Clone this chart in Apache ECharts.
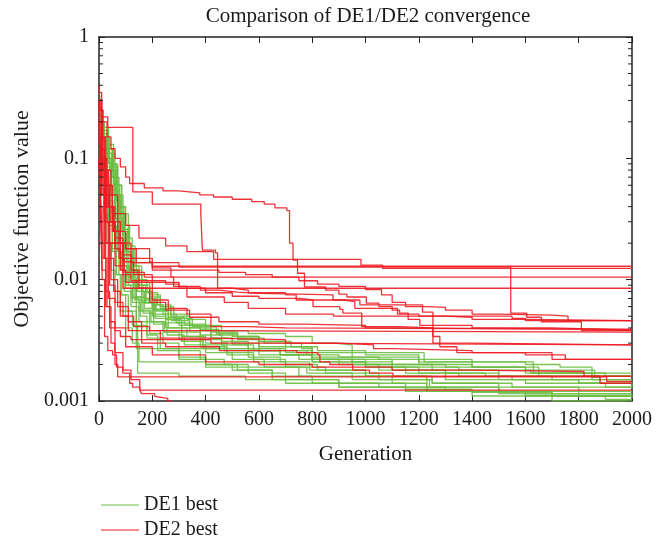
<!DOCTYPE html>
<html><head><meta charset="utf-8">
<script src="https://cdn.jsdelivr.net/npm/echarts@6/dist/echarts.min.js"></script>
<style>html,body{margin:0;padding:0;background:#fff}#c{width:670px;height:544px}</style>
</head><body><div id="c"></div>
<script>
// ---- data: [generation, best objective value] breakpoints (best-so-far, step) ----
const xTicks = [0,200,400,600,800,1000,1200,1400,1600,1800,2000];
const yMinorTicks = [0.002,0.003,0.004,0.005,0.006,0.007,0.008,0.009,0.02,0.03,0.04,0.05,0.06,0.07,0.08,0.09,0.2,0.3,0.4,0.5,0.6,0.7,0.8,0.9];

const de1_run01 = [[0,0.22],[10,0.17],[30,0.12],[50,0.08],[65,0.05],[80,0.035],[95,0.025],[110,0.018],[130,0.012],[160,0.009],[190,0.0075],[230,0.006],[280,0.0052],[330,0.0047],[400,0.0042],[460,0.0038],[560,0.0036],[700,0.0034],[800,0.003],[880,0.0029],[950,0.0025],[1220,0.0021],[1600,0.002],[1730,0.0019],[1850,0.00157],[1880,0.0014],[2000,0.0014]];
const de1_run02 = [[0,0.18],[12,0.14],[35,0.09],[55,0.06],[70,0.04],[85,0.025],[100,0.017],[120,0.011],[145,0.008],[175,0.0065],[210,0.0055],[260,0.0047],[300,0.0042],[380,0.0039],[450,0.0035],[520,0.0032],[600,0.0028],[700,0.0026],[780,0.0024],[900,0.0023],[1050,0.0022],[1200,0.002],[1400,0.0019],[1600,0.0017],[1900,0.0016],[2000,0.0016]];
const de1_run03 = [[0,0.15],[8,0.12],[25,0.1],[45,0.07],[60,0.045],[75,0.03],[90,0.02],[105,0.014],[125,0.01],[140,0.0027],[700,0.0025],[800,0.0021],[1000,0.0019],[1150,0.0017],[1350,0.0016],[1550,0.0015],[1800,0.0014],[2000,0.0013]];
const de1_run04 = [[0,0.2],[20,0.15],[40,0.11],[60,0.07],[75,0.05],[90,0.035],[110,0.022],[125,0.015],[140,0.011],[160,0.008],[200,0.0062],[240,0.0052],[290,0.0044],[340,0.004],[420,0.0033],[500,0.003],[600,0.0026],[800,0.0022],[950,0.002],[1100,0.0018],[1300,0.0017],[1500,0.0016],[1700,0.0015],[2000,0.0015]];
const de1_run05 = [[0,0.12],[10,0.09],[25,0.06],[40,0.04],[55,0.025],[70,0.017],[85,0.012],[100,0.009],[120,0.007],[150,0.0055],[190,0.0045],[240,0.0037],[300,0.0032],[380,0.0028],[480,0.0025],[580,0.0022],[700,0.002],[820,0.0018],[1000,0.0016],[1250,0.0014],[1500,0.0013],[1800,0.0012],[2000,0.0012]];
const de1_run06 = [[0,0.25],[15,0.18],[35,0.13],[55,0.09],[70,0.06],[85,0.04],[100,0.028],[115,0.019],[135,0.013],[160,0.0095],[190,0.0072],[230,0.0058],[280,0.0048],[350,0.0041],[440,0.0036],[520,0.0033],[620,0.003],[760,0.0027],[800,0.0023],[950,0.0021],[1100,0.0019],[1350,0.0018],[1620,0.0017],[2000,0.0017]];
const de1_run07 = [[0,0.16],[12,0.12],[28,0.085],[45,0.055],[60,0.035],[72,0.022],[88,0.015],[105,0.011],[130,0.0085],[160,0.0065],[200,0.005],[250,0.004],[310,0.0034],[390,0.0029],[470,0.0026],[560,0.0023],[680,0.0021],[790,0.0018],[1000,0.0016],[1230,0.0013],[1500,0.0012],[1700,0.0011],[2000,0.0011]];
const de1_run08 = [[0,0.14],[20,0.11],[40,0.08],[55,0.05],[68,0.03],[80,0.02],[95,0.013],[115,0.0095],[140,0.0072],[170,0.0058],[210,0.0048],[260,0.004],[330,0.0034],[400,0.003],[480,0.0027],[600,0.0024],[750,0.0022],[900,0.002],[1050,0.0018],[1300,0.0015],[1600,0.0014],[1900,0.0013],[2000,0.0013]];
const de1_run09 = [[0,0.2],[10,0.16],[30,0.12],[50,0.09],[65,0.06],[78,0.04],[92,0.026],[108,0.017],[125,0.012],[145,0.009],[175,0.007],[215,0.0056],[270,0.0046],[340,0.0038],[420,0.0033],[500,0.0029],[580,0.0026],[680,0.0024],[800,0.0021],[1000,0.0019],[1200,0.0017],[1450,0.0016],[1850,0.0015],[2000,0.0015]];
const de1_run10 = [[0,0.11],[15,0.08],[30,0.05],[45,0.03],[60,0.018],[75,0.011],[95,0.008],[120,0.006],[150,0.0045],[190,0.0036],[240,0.003],[300,0.0026],[380,0.0022],[470,0.002],[560,0.0017],[700,0.0015],[900,0.0013],[1230,0.0012],[1600,0.0011],[1900,0.00103],[2000,0.00103]];
const de1_run11 = [[0,0.17],[18,0.13],[35,0.1],[52,0.07],[66,0.045],[80,0.028],[95,0.018],[112,0.012],[135,0.009],[165,0.007],[200,0.0057],[250,0.0047],[310,0.004],[380,0.0035],[460,0.0031],[560,0.0027],[680,0.0024],[800,0.0022],[1100,0.002],[1300,0.0019],[1650,0.0016],[2000,0.0016]];
const de1_run12 = [[0,0.13],[10,0.1],[22,0.07],[38,0.045],[52,0.028],[65,0.018],[80,0.012],[100,0.0085],[125,0.0065],[155,0.005],[180,0.0035],[220,0.0026],[300,0.0022],[400,0.002],[520,0.0018],[650,0.0015],[900,0.0014],[1150,0.0012],[1400,0.0011],[1700,0.001],[2000,0.001]];
const de1_run13 = [[0,0.19],[12,0.15],[32,0.11],[48,0.08],[62,0.055],[76,0.036],[90,0.024],[104,0.016],[120,0.011],[145,0.0085],[175,0.0068],[210,0.0057],[260,0.0049],[320,0.0043],[400,0.0038],[500,0.0034],[600,0.0031],[700,0.0028],[800,0.0025],[950,0.0023],[1200,0.0021],[1400,0.0019],[1600,0.0018],[1860,0.0016],[2000,0.0016]];
const de1_run14 = [[0,0.1],[10,0.07],[22,0.045],[35,0.028],[50,0.017],[65,0.011],[85,0.0075],[110,0.0055],[140,0.0042],[180,0.0033],[230,0.0027],[300,0.0023],[400,0.002],[500,0.0018],[650,0.0016],[800,0.0014],[1050,0.0013],[1300,0.0012],[1600,0.00112],[2000,0.00108]];
const de1_run15 = [[0,0.21],[15,0.17],[35,0.12],[55,0.085],[70,0.06],[85,0.04],[98,0.026],[112,0.018],[128,0.013],[150,0.01],[180,0.0078],[220,0.0062],[270,0.005],[340,0.0042],[420,0.0037],[520,0.0034],[600,0.0031],[720,0.0028],[820,0.0026],[1000,0.0024],[1200,0.0022],[1400,0.0021],[1630,0.0017],[1850,0.0016],[2000,0.0016]];
const de1_run16 = [[0,0.15],[10,0.11],[25,0.08],[42,0.05],[58,0.032],[72,0.02],[88,0.013],[105,0.0095],[128,0.0072],[158,0.0056],[195,0.0045],[245,0.0037],[310,0.0031],[390,0.0027],[480,0.0024],[580,0.0021],[700,0.0019],[850,0.0017],[1050,0.0015],[1240,0.0013],[1500,0.0012],[1800,0.0011],[2000,0.0011]];
const de1_run17 = [[0,0.09],[8,0.06],[18,0.035],[30,0.02],[45,0.012],[60,0.008],[80,0.0055],[100,0.004],[125,0.003],[150,0.0021],[400,0.0019],[750,0.0016],[1100,0.0014],[1230,0.0012],[1500,0.00115],[2000,0.00115]];
const de1_run18 = [[0,0.11],[10,0.08],[20,0.05],[35,0.03],[50,0.018],[65,0.011],[80,0.0075],[100,0.0055],[125,0.0042],[145,0.0017],[300,0.0016],[550,0.0015],[700,0.0014],[900,0.0013],[1150,0.00125],[1400,0.00118],[1700,0.0011],[2000,0.00105]];
const de1_run19 = [[0,0.16],[12,0.12],[30,0.08],[48,0.05],[62,0.032],[76,0.02],[92,0.013],[110,0.009],[135,0.0068],[165,0.0053],[205,0.0043],[255,0.0035],[320,0.0029],[400,0.0025],[500,0.0022],[620,0.0019],[780,0.0017],[950,0.0015],[1250,0.0014],[1550,0.0013],[2000,0.0013]];
const de1_run20 = [[0,0.18],[14,0.14],[30,0.1],[46,0.07],[60,0.048],[74,0.032],[88,0.021],[102,0.014],[118,0.0105],[140,0.008],[170,0.0064],[205,0.0052],[250,0.0044],[310,0.0037],[380,0.0032],[460,0.0029],[560,0.0026],[680,0.0024],[800,0.0022],[1000,0.002],[1250,0.0018],[1500,0.0015],[1800,0.0014],[2000,0.0014]];

const de2_run01 = [[0,0.4],[5,0.25],[15,0.2],[30,0.15],[45,0.12],[60,0.1],[80,0.085],[100,0.07],[115,0.062],[170,0.057],[240,0.054],[300,0.052],[378,0.05],[430,0.048],[500,0.046],[573,0.044],[620,0.042],[660,0.039],[705,0.037],[715,0.02],[728,0.0145],[745,0.0113],[771,0.0087],[850,0.0082],[900,0.0076],[930,0.0072],[1003,0.0064],[1050,0.006],[1100,0.0056],[1128,0.0053],[1160,0.0047],[1204,0.0042],[1400,0.004],[1700,0.0039],[1900,0.0038],[2000,0.0038]];
const de2_run02 = [[0,0.3],[8,0.22],[33,0.18],[127,0.053],[200,0.042],[382,0.035],[388,0.0175],[437,0.0166],[445,0.0085],[500,0.0082],[560,0.0078],[700,0.0075],[740,0.0068],[920,0.0066],[960,0.0058],[1120,0.0052],[1200,0.005],[1550,0.0048],[1600,0.0046],[2000,0.0046]];
const de2_run03 = [[0,0.2],[10,0.1],[25,0.06],[50,0.035],[70,0.025],[100,0.018],[140,0.0138],[300,0.0127],[1545,0.0053],[1605,0.0049],[1660,0.0045],[1810,0.0038],[2000,0.0038]];
const de2_run04 = [[0,0.3],[10,0.15],[25,0.08],[45,0.05],[70,0.035],[100,0.028],[150,0.022],[250,0.019],[330,0.017],[430,0.0147],[983,0.0132],[1064,0.0124],[2000,0.0124]];
const de2_run05 = [[0,0.2],[15,0.08],[30,0.04],[60,0.022],[90,0.016],[120,0.0138],[200,0.0129],[2000,0.0129]];
const de2_run06 = [[0,0.15],[10,0.07],[25,0.04],[50,0.025],[75,0.015],[95,0.0115],[170,0.0105],[2000,0.0105]];
const de2_run07 = [[0,0.25],[10,0.12],[20,0.06],[40,0.03],[60,0.018],[80,0.012],[100,0.0095],[150,0.0085],[2000,0.0085]];
const de2_run08 = [[0,0.3],[10,0.1],[30,0.05],[50,0.03],[80,0.02],[120,0.015],[200,0.012],[450,0.0115],[550,0.011],[650,0.0105],[750,0.0098],[820,0.0092],[900,0.0088],[1000,0.0083],[1060,0.0075],[1100,0.0065],[1150,0.006],[1230,0.0059],[1300,0.0056],[1400,0.0052],[1500,0.0051],[1700,0.005],[1760,0.0046],[2000,0.0046]];
const de2_run09 = [[0,0.2],[10,0.08],[25,0.04],[40,0.02],[60,0.013],[90,0.011],[120,0.0098],[250,0.0092],[300,0.0088],[380,0.0082],[450,0.0079],[520,0.0077],[600,0.0076],[753,0.0075],[878,0.0068],[979,0.0062],[1214,0.0054],[1253,0.0034],[1279,0.0028],[1343,0.0025],[1600,0.0024],[1700,0.0022],[2000,0.0022]];
const de2_run10 = [[0,0.25],[10,0.1],[25,0.05],[40,0.03],[60,0.02],[90,0.014],[130,0.011],[200,0.0095],[300,0.0085],[400,0.0078],[500,0.0073],[600,0.007],[753,0.0068],[803,0.006],[904,0.0057],[915,0.0053],[986,0.0041],[1128,0.004],[1253,0.003],[1400,0.0029],[2000,0.0029]];
const de2_run11 = [[0,0.3],[5,0.05],[12,0.01],[21,0.0034],[33,0.0026],[51,0.0024],[66,0.0019],[89,0.0017],[115,0.0014],[126,0.0013],[153,0.00123],[160,0.00115],[209,0.00109],[216,0.00105],[258,0.001],[270,0.00095]];
const de2_run12 = [[0,0.1],[5,0.04],[15,0.015],[30,0.006],[45,0.003],[60,0.002],[70,0.00158],[1905,0.00145],[2000,0.00145]];
const de2_run13 = [[0,0.2],[5,0.06],[12,0.02],[25,0.008],[40,0.004],[60,0.0025],[90,0.0018],[120,0.0015],[153,0.00123],[2000,0.00123]];
const de2_run14 = [[0,0.25],[8,0.08],[20,0.03],[35,0.015],[55,0.008],[80,0.005],[110,0.0038],[160,0.003],[250,0.0028],[452,0.0026],[742,0.0025],[821,0.0024],[829,0.0021],[866,0.002],[952,0.0018],[1015,0.0017],[1103,0.0016],[2000,0.0016]];
const de2_run15 = [[0,0.3],[5,0.1],[15,0.05],[30,0.03],[60,0.02],[100,0.018],[190,0.014],[200,0.0125],[270,0.0105],[280,0.0088],[330,0.0072],[470,0.0065],[560,0.0058],[700,0.0052],[880,0.005],[1300,0.0049],[1400,0.0047],[1600,0.0046],[2000,0.0045]];
const de2_run16 = [[0,0.2],[8,0.08],[20,0.04],[40,0.02],[90,0.0085],[190,0.0065],[250,0.0056],[340,0.0049],[450,0.0045],[600,0.0043],[760,0.0042],[1000,0.004],[1120,0.0039],[2000,0.0039]];
const de2_run17 = [[0,0.35],[10,0.15],[20,0.08],[35,0.04],[55,0.025],[80,0.015],[120,0.012],[150,0.0095],[200,0.0068],[260,0.0058],[330,0.0052],[420,0.0041],[560,0.004],[700,0.0039],[2000,0.0039]];
const de2_run18 = [[0,0.12],[10,0.05],[25,0.02],[40,0.009],[60,0.0065],[90,0.005],[130,0.0041],[190,0.0038],[300,0.0037],[2000,0.0037]];
const de2_run19 = [[0,0.1],[5,0.04],[12,0.012],[25,0.006],[40,0.0045],[60,0.0038],[80,0.0034],[120,0.0032],[420,0.003],[700,0.0029],[2000,0.0029]];
const de2_run20 = [[0,0.2],[10,0.06],[25,0.02],[45,0.01],[70,0.006],[110,0.0045],[160,0.0038],[230,0.0033],[400,0.0032],[700,0.003],[900,0.0029],[1030,0.0027],[1100,0.0026],[1400,0.0025],[1700,0.0024],[1750,0.0022],[2000,0.0022]];
const de2_run21 = [[0,0.15],[8,0.05],[20,0.015],[35,0.007],[60,0.004],[100,0.0028],[200,0.0024],[400,0.0021],[600,0.002],[800,0.0019],[1100,0.0018],[1400,0.00175],[1820,0.0016],[1880,0.0014],[2000,0.0014]];

const de1Runs = [de1_run01,de1_run02,de1_run03,de1_run04,de1_run05,de1_run06,de1_run07,de1_run08,de1_run09,de1_run10,de1_run11,de1_run12,de1_run13,de1_run14,de1_run15,de1_run16,de1_run17,de1_run18,de1_run19,de1_run20];
const de2Runs = [de2_run01,de2_run02,de2_run03,de2_run04,de2_run05,de2_run06,de2_run07,de2_run08,de2_run09,de2_run10,de2_run11,de2_run12,de2_run13,de2_run14,de2_run15,de2_run16,de2_run17,de2_run18,de2_run19,de2_run20,de2_run21];

const GREEN = '#6cbd45';
const RED = '#ec1c24';
const FONT = '"Liberation Serif", "DejaVu Serif", serif';
const TXT = '#1a1a1a';

const chart = echarts.init(document.getElementById('c'), null, {renderer:'canvas'});

function runSeries(data, name, color, z){
  return {type:'line', name, data, step:'end', symbol:'none', showSymbol:false,
    xAxisIndex:0, yAxisIndex:0, z, silent:true, animation:false,
    lineStyle:{color, width:1.3, opacity:0.9}, itemStyle:{color}};
}

const series = [];
de1Runs.forEach(r => series.push(runSeries(r, 'DE1 best', GREEN, 2)));
de2Runs.forEach(r => series.push(runSeries(r, 'DE2 best', RED, 3)));
series.push({
  type:'custom', silent:true, animation:false, z:10, clip:false,
  xAxisIndex:0, yAxisIndex:0,
  data: yMinorTicks.map(v => [0, v]),
  encode:{x:0, y:1},
  renderItem(params, api){
    const v = api.value(1);
    const L = api.coord([0, v]);
    const R = api.coord([2000, v]);
    const st = {stroke:'#222', lineWidth:1};
    return {type:'group', children:[
      {type:'line', shape:{x1:L[0], y1:L[1], x2:L[0]+4, y2:L[1]}, style:st},
      {type:'line', shape:{x1:R[0]-4, y1:R[1], x2:R[0], y2:R[1]}, style:st}
    ]};
  }
});

const axisLine = {show:true, onZero:false, lineStyle:{color:'#222', width:1.5}};
const tick = {show:true, inside:true, length:6, lineStyle:{color:'#222', width:1}};
const legendBase = {orient:'vertical', left:96, itemWidth:38, itemHeight:12,
  icon:'path://M0,5 L38,5 L38,6 L0,6 Z',
  textStyle:{fontFamily:FONT, fontSize:20, color:TXT}};

chart.setOption({
  backgroundColor:'#fff',
  animation:false,
  title:{text:'Comparison of DE1/DE2 convergence', left:363, textAlign:'center', top:1,
    textStyle:{fontFamily:FONT, fontSize:21, fontWeight:'normal', color:TXT}},
  grid:{left:99, right:38, top:37, bottom:143, containLabel:false},
  legend:[
    Object.assign({data:['DE1 best'], top:490}, legendBase),
    Object.assign({data:['DE2 best'], top:515}, legendBase)
  ],
  xAxis:[
    {type:'value', position:'bottom', min:0, max:2000, interval:200,
     name:'Generation', nameLocation:'middle', nameGap:43,
     nameTextStyle:{fontFamily:FONT, fontSize:21, color:TXT},
     axisLine, axisTick:tick, splitLine:{show:false},
     axisLabel:{fontFamily:FONT, fontSize:20, color:TXT, margin:9, formatter:v => String(v)}},
    {type:'value', position:'top', min:0, max:2000, interval:200,
     axisLine, axisTick:tick, splitLine:{show:false}, axisLabel:{show:false}}
  ],
  yAxis:[
    {type:'log', position:'left', min:0.001, max:1, logBase:10,
     name:'Objective function value', nameLocation:'middle', nameGap:66, nameRotate:90,
     nameTextStyle:{fontFamily:FONT, fontSize:22, color:TXT},
     axisLine, axisTick:tick, splitLine:{show:false}, minorTick:{show:false},
     axisLabel:{fontFamily:FONT, fontSize:20, color:TXT, margin:10,
       formatter:v => String(+v.toPrecision(3))}},
    {type:'log', position:'right', min:0.001, max:1, logBase:10,
     axisLine, axisTick:tick, splitLine:{show:false}, axisLabel:{show:false}}
  ],
  series
});
</script>
</body></html>
